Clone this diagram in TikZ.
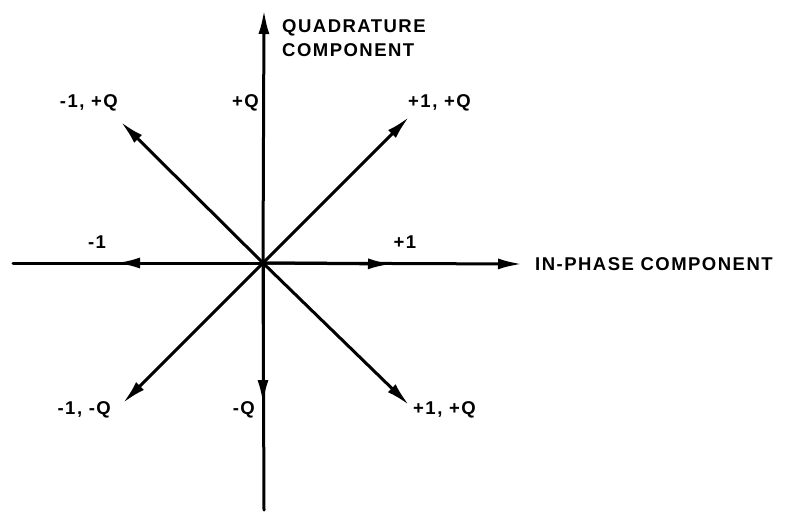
\documentclass[tikz,border=0pt]{standalone}
\usepackage{fontspec}
\newfontfamily\lblfont{Liberation Sans}[LetterSpace=8]
\usetikzlibrary{arrows.meta}
\begin{document}
\begin{tikzpicture}[x=1pt,y=-1pt,
  line/.style={line width=3pt,line cap=round},
  vec/.style={line,-{Latex[length=24pt,width=11pt]}},
  lbl/.style={inner sep=0pt,font=\lblfont\bfseries\fontsize{18.5}{20}\selectfont}]
\useasboundingbox (0,0) rectangle (789,511);
\coordinate (O) at (263,263);
\coordinate (top) at (264,10);
\coordinate (bot) at (264,510);
\coordinate (dn) at (263,404);
\coordinate (left) at (13,263);
\coordinate (lt) at (116,263);
\coordinate (rt) at (392,264);
\coordinate (right) at (522,264);
\coordinate (ne) at (409,117);
\coordinate (nw) at (121,122);
\coordinate (sw) at (123,403);
\coordinate (se) at (409,405);
% axes
\draw[vec] (O) -- (top);
\draw[line] (O) -- (bot);
\draw[vec] (O) -- (dn);
\draw[line] (O) -- (left);
\draw[vec] (O) -- (lt);
\draw[vec] (O) -- (rt);
\draw[vec] (O) -- (right);
% diagonals
\draw[vec] (O) -- (ne);
\draw[vec] (O) -- (nw);
\draw[vec] (O) -- (sw);
\draw[vec] (O) -- (se);
% labels
\node[lbl,anchor=west] (qa) at (282,28) {QUADRATURE};
\node[lbl,anchor=west] (qb) at (282,50) {COMPONENT};
\node[lbl,anchor=west] (ip) at (535,264) {IN-PHASE COMPONENT};
\node[lbl,anchor=east] (lnw) at (118,103) {-1, +Q};
\node[lbl,anchor=east] (lpq) at (259,103) {+Q};
\node[lbl,anchor=west] (lne) at (408,103) {+1, +Q};
\node[lbl] (lm1) at (97,242) {-1};
\node[lbl] (lp1) at (405,242) {+1};
\node[lbl,anchor=east] (lsw) at (111,410) {-1, -Q};
\node[lbl,anchor=east] (lmq) at (255,410) {-Q};
\node[lbl,anchor=west] (lse) at (413,410) {+1, +Q};
\end{tikzpicture}
\end{document}
